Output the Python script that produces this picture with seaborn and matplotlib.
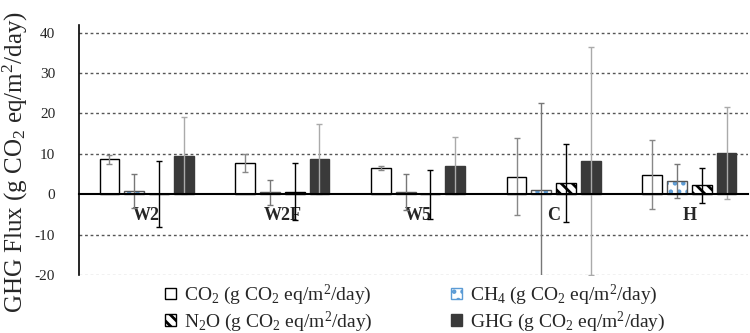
import numpy as np
import pandas as pd
import matplotlib
matplotlib.use("Agg")
import matplotlib.pyplot as plt
import seaborn as sns
from matplotlib.patches import Patch, Rectangle

sites = ["W2", "W2F", "W5", "C", "H"]
gases = ["CO2", "CH4", "N2O", "GHG"]
co2 = [8.7, 7.65, 6.4, 4.35, 4.85]
co2_err = [1.1, 2.2, 0.5, 9.5, 8.55]
ch4 = [0.75, 0.5, 0.5, 1.0, 3.3]
ch4_err = [4.15, 3.1, 4.5, 21.5, 4.2]
n2o = [0.1, 0.65, 0.0, 2.8, 2.2]
n2o_err = [8.1, 7.1, 6.1, 9.6, 4.3]
ghg = [9.55, 8.8, 7.1, 8.15, 10.3]
ghg_err = [9.5, 8.7, 7.1, 28.2, 11.4]

labels = {
    "CO2": r"CO$_2$ (g CO$_2$ eq/m$^2$/day)",
    "CH4": r"CH$_4$ (g CO$_2$ eq/m$^2$/day)",
    "N2O": r"N$_2$O (g CO$_2$ eq/m$^2$/day)",
    "GHG": r"GHG (g CO$_2$ eq/m$^2$/day)",
}

vals = {"CO2": co2, "CH4": ch4, "N2O": n2o, "GHG": ghg}
errs = {"CO2": co2_err, "CH4": ch4_err, "N2O": n2o_err, "GHG": ghg_err}
df = pd.DataFrame([(s, g, vals[g][i]) for g in gases for i, s in enumerate(sites)],
                  columns=["site", "gas", "flux"])

sns.set_style("white")
plt.rcParams["font.family"] = ["Liberation Serif", "DejaVu Serif"]
plt.rcParams["mathtext.fontset"] = "custom"
plt.rcParams["mathtext.rm"] = "Liberation Serif"
plt.rcParams["mathtext.it"] = "Liberation Serif:italic"
plt.rcParams["hatch.linewidth"] = 2.0

fig = plt.figure(figsize=(7.5, 3.33), dpi=100)
ax = fig.add_axes([0.105, 0.174, 0.892, 0.751])

fills = {"CO2": "white", "CH4": "white", "N2O": "white", "GHG": "#3a3a3a"}
sns.barplot(data=df, x="site", y="flux", hue="gas", hue_order=gases, order=sites,
            palette=fills, width=0.73, gap=0.2, errorbar=None, ax=ax,
            legend=False, zorder=3)

edge = {"CO2": "black", "CH4": "#555555", "N2O": "black", "GHG": "#3a3a3a"}
ecol = {"CO2": "#888888", "CH4": "#777777", "N2O": "black", "GHG": "#aaaaaa"}
patches = ax.patches[:]
for gi, g in enumerate(gases):
    for si in range(len(sites)):
        p = patches[gi * len(sites) + si]
        p.set_edgecolor(edge[g])
        p.set_linewidth(1.0)
        if g == "CH4":
            p.set_hatch("..")
            p.set_edgecolor("#5b9bd5")
            p.set_linewidth(0)
            ax.add_patch(Rectangle((p.get_x(), p.get_y()), p.get_width(), p.get_height(),
                                   fill=False, edgecolor="#555555", lw=1.0, zorder=3.5))
        if g == "N2O":
            p.set_hatch("\\\\\\")
        cx = p.get_x() + p.get_width() / 2
        ax.errorbar(cx, p.get_height(), yerr=errs[g][si], fmt="none",
                    ecolor=ecol[g], elinewidth=1.0, capsize=2.5, capthick=1.0, zorder=4)

ax.set_xlim(-0.5, 4.43)
ax.set_ylim(-20, 41.9)
ax.set_yticks(np.arange(-20, 41, 10))
ax.set_yticklabels([str(v) for v in range(-20, 41, 10)])
ax.tick_params(axis="y", length=0, pad=17, labelsize=11)
for yv in [10, 20, 30, 40, -10]:
    ax.axhline(yv, color="#555555", lw=1.0, ls=(0, (2, 2)), zorder=1)
ax.axhline(-20, color="#bbbbbb", lw=1.0, ls=(0, (2, 2)), zorder=1)

ax.spines["top"].set_visible(False)
ax.spines["right"].set_visible(False)
ax.spines["left"].set_color("black")
ax.spines["left"].set_linewidth(1.2)
ax.spines["bottom"].set_position(("data", 0))
ax.spines["bottom"].set_color("black")
ax.spines["bottom"].set_linewidth(1.5)
ax.spines["bottom"].set_zorder(5)
ax.tick_params(axis="x", length=0, pad=9, labelsize=13)
for t in ax.get_xticklabels():
    t.set_fontweight("bold")
ax.set_xlabel("")
ax.set_ylabel(r"GHG Flux (g CO$_2$ eq/m$^2$/day)", fontsize=18)
ax.yaxis.set_label_coords(-0.073, 0.452)

handles = [
    Patch(facecolor="white", edgecolor="black", label=labels["CO2"]),
    Patch(facecolor="white", edgecolor="black", hatch="\\\\\\", label=labels["N2O"]),
    Patch(facecolor="white", edgecolor="#5b9bd5", hatch="..", label=labels["CH4"]),
    Patch(facecolor="#3a3a3a", edgecolor="#3a3a3a", label=labels["GHG"]),
]
fig.legend(handles=handles, ncol=2, loc="upper left", bbox_to_anchor=(0.22, 0.15),
           frameon=False, fontsize=14, handlelength=0.55, handleheight=0.55,
           handletextpad=0.45, columnspacing=4.0, labelspacing=0.1,
           borderpad=0, borderaxespad=0)

fig.savefig("out.png", dpi=100)
